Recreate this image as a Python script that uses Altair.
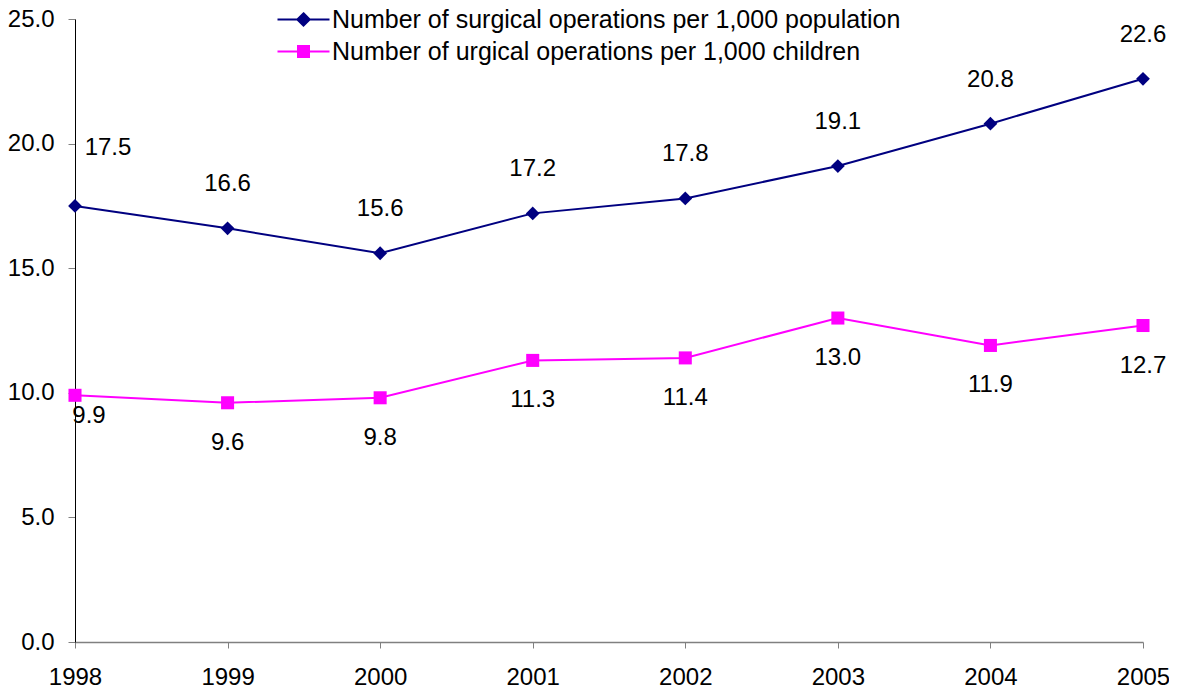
import altair as alt
import pandas as pd

years = ["1998", "1999", "2000", "2001", "2002", "2003", "2004", "2005"]
population = [17.5, 16.6, 15.6, 17.2, 17.8, 19.1, 20.8, 22.6]
children = [9.9, 9.6, 9.8, 11.3, 11.4, 13.0, 11.9, 12.7]
series_names = [
    "Number of surgical operations per 1,000 population",
    "Number of urgical operations per 1,000 children",
]
colors = ["#000080", "#FF00FF"]

rows = []
for y, v in zip(years, population):
    rows.append({"year": y, "value": v, "series": series_names[0]})
for y, v in zip(years, children):
    rows.append({"year": y, "value": v, "series": series_names[1]})
df = pd.DataFrame(rows)

FONT = "Liberation Sans"
first_year = years[0]

x_enc = alt.X("year:O", scale=alt.Scale(type="point", padding=0),
              axis=alt.Axis(title=None, labelAngle=0))
y_enc = alt.Y("value:Q", scale=alt.Scale(domain=[0, 25], nice=False, zero=True),
              axis=alt.Axis(title=None, values=[0, 5, 10, 15, 20, 25], format=".1f"))
text_enc = alt.Text("value:Q", format=".1f")

base = alt.Chart(df)
pop_base = base.transform_filter(alt.datum.series == series_names[0])
child_base = base.transform_filter(alt.datum.series == series_names[1])

line_pop = pop_base.mark_line(strokeWidth=2, color=colors[0]).encode(x=x_enc, y=y_enc)
line_child = child_base.mark_line(strokeWidth=2, color=colors[1]).encode(x=x_enc, y=y_enc)

points_pop = pop_base.mark_point(filled=True, opacity=1, shape="diamond", size=190,
                                 color=colors[0]).encode(x=x_enc, y=y_enc)
points_child = child_base.mark_point(filled=True, opacity=1, shape="square", size=170,
                                     color=colors[1]).encode(x=x_enc, y=y_enc)

is_first = alt.datum.year == first_year
not_first = alt.datum.year != first_year

# labels at the first category are nudged off the axis line
labels_pop = pop_base.transform_filter(not_first).mark_text(
    dy=-44, fontSize=24, font=FONT, color="black").encode(x=x_enc, y=y_enc, text=text_enc)
labels_pop_first = pop_base.transform_filter(is_first).mark_text(
    dy=-58, dx=33, fontSize=24, font=FONT, color="black").encode(x=x_enc, y=y_enc, text=text_enc)
labels_child = child_base.transform_filter(not_first).mark_text(
    dy=40, fontSize=24, font=FONT, color="black").encode(x=x_enc, y=y_enc, text=text_enc)
labels_child_first = child_base.transform_filter(is_first).mark_text(
    dy=21, dx=14, fontSize=24, font=FONT, color="black").encode(x=x_enc, y=y_enc, text=text_enc)

legend_paths = [
    "M-2.6,0H2.6M0,-0.62L0.62,0L0,0.62L-0.62,0Z",
    "M-2.6,0H2.6M-0.55,-0.55H0.55V0.55H-0.55Z",
]
legend_layer = base.mark_point(filled=True, opacity=0).encode(
    x=x_enc, y=y_enc,
    fill=alt.Fill("series:N", scale=alt.Scale(domain=series_names, range=colors),
                  legend=alt.Legend(title=None)),
    stroke=alt.Stroke("series:N", scale=alt.Scale(domain=series_names, range=colors),
                      legend=alt.Legend(title=None)),
    shape=alt.Shape("series:N", scale=alt.Scale(domain=series_names, range=legend_paths),
                    legend=alt.Legend(title=None)),
)

chart = alt.layer(line_pop, line_child, points_pop, points_child,
                  labels_pop, labels_pop_first, labels_child, labels_child_first,
                  legend_layer).properties(
    width=1068, height=623,
    autosize=alt.AutoSizeParams(type="none"),
    padding={"left": 67, "top": 11, "right": 26, "bottom": 46},
).configure_view(stroke=None).configure_axis(
    grid=False, labelFont=FONT, labelFontSize=24, labelColor="black",
).configure_axisY(
    domainColor="black", domainWidth=1, tickColor="#808080", tickSize=7, labelPadding=14,
).configure_axisX(
    domainColor="#808080", domainWidth=1.5, tickColor="#808080", tickSize=6, labelPadding=17,
).configure_legend(
    orient="none", legendX=216, legendY=-12, padding=0,
    labelFont=FONT, labelFontSize=25, labelColor="black", labelLimit=0,
    symbolSize=400, symbolStrokeWidth=2, symbolOpacity=1, labelOffset=16, rowPadding=6,
)

chart.save("out.html", embed_options={"renderer": "svg", "actions": False})
